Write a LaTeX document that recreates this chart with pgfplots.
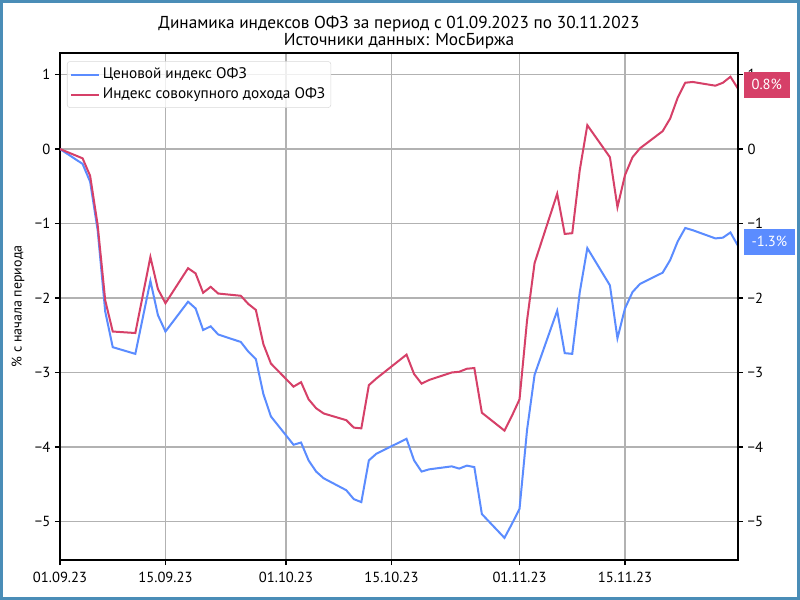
\documentclass[border=0pt]{standalone}
\usepackage{fontspec}
\setmainfont{PT Sans}
\usepackage{pgfplots}
\pgfplotsset{compat=1.18}
\definecolor{cblue}{RGB}{91,140,255}
\definecolor{cred}{RGB}{214,64,104}
\definecolor{framec}{RGB}{74,141,183}
\pgfplotsset{legend image code/.code={\draw[#1] (0bp,0bp) -- (21bp,0bp);}}

\pgfplotstableread{
d v
0 0
3 -0.20
4 -0.44
5 -1.09
6 -2.18
7 -2.66
10 -2.75
12 -1.77
13 -2.23
14 -2.45
17 -2.05
18 -2.14
19 -2.43
20 -2.38
21 -2.49
24 -2.59
25 -2.72
26 -2.82
27 -3.29
28 -3.59
31 -3.97
32 -3.94
33 -4.18
34 -4.33
35 -4.42
38 -4.58
39 -4.70
40 -4.74
41 -4.18
42 -4.09
46 -3.89
47 -4.18
48 -4.33
49 -4.30
52 -4.26
53 -4.29
54 -4.25
55 -4.27
56 -4.90
59 -5.22
60 -5.03
61 -4.83
62 -3.77
63 -3.03
66 -2.17
67 -2.74
68 -2.75
69 -1.92
70 -1.33
73 -1.83
74 -2.54
75 -2.14
76 -1.92
77 -1.81
80 -1.66
81 -1.49
82 -1.24
83 -1.06
84 -1.09
87 -1.20
88 -1.19
89 -1.12
90 -1.30
}\priceidx

\pgfplotstableread{
d v
0 0
3 -0.125
4 -0.36
5 -1.02
6 -2.03
7 -2.45
10 -2.47
12 -1.45
13 -1.88
14 -2.07
17 -1.60
18 -1.67
19 -1.93
20 -1.85
21 -1.94
24 -1.97
25 -2.08
26 -2.16
27 -2.62
28 -2.88
31 -3.19
32 -3.13
33 -3.36
34 -3.48
35 -3.55
38 -3.64
39 -3.74
40 -3.75
41 -3.17
42 -3.08
46 -2.76
47 -3.02
48 -3.15
49 -3.10
52 -3.00
53 -2.99
54 -2.95
55 -2.94
56 -3.54
59 -3.78
60 -3.58
61 -3.36
62 -2.30
63 -1.53
66 -0.60
67 -1.14
68 -1.13
69 -0.28
70 0.32
73 -0.11
74 -0.78
75 -0.35
76 -0.11
77 0.01
80 0.24
81 0.41
82 0.69
83 0.89
84 0.90
87 0.85
88 0.89
89 0.97
90 0.81
}\totalidx

\begin{document}
\begin{tikzpicture}
\fill[framec] (-45bp,-30bp) rectangle (555bp,420bp);
\fill[white] (-42.75bp,-27.75bp) rectangle (552.75bp,417.75bp);
\useasboundingbox (-45bp,-30bp) rectangle (555bp,420bp);
\begin{axis}[
  at={(0,0)}, anchor=south west, scale only axis,
  width=508.5bp, height=380.25bp,
  xmin=0, xmax=90, ymin=-5.517, ymax=1.289,
  xtick={0,14,30,44,61,75},
  xticklabels={01.09.23,15.09.23,01.10.23,15.10.23,01.11.23,15.11.23},
  ytick={-5,-4,-3,-2,-1,0,1},
  yticklabels={−5,−4,−3,−2,−1,0,1},
  tick align=outside, tick pos=left, major tick length=3.75bp,
  grid=major, grid style={gray!60, line width=0.8bp},
  axis line style={line width=0.8bp},
  every tick/.style={black, line width=0.8bp},
  tick label style={font=\fontsize{11}{12}\selectfont},
  xticklabel style={yshift=-1.5bp},
  ylabel={\% с начала периода},
  ylabel style={at={(axis description cs:-0.0619,0.5)}, anchor=center, font=\fontsize{10.5}{12}\selectfont},
  title={Динамика индексов ОФЗ за период с 01.09.2023 по 30.11.2023\\Источники данных: МосБиржа},
  title style={at={(axis description cs:0.5,1)}, anchor=south, align=center, inner sep=0pt, yshift=-3.5bp, font=\fontsize{13}{13.5}\selectfont},
  legend style={at={(axis description cs:0.0103,0.9837)}, anchor=north west,
    draw=gray!30, rounded corners=2bp, fill=white, fill opacity=0.8, text opacity=1,
    font=\fontsize{11.5}{12}\selectfont, inner sep=2.25bp,
    nodes={inner sep=2bp, text height=8.5bp, text depth=2.5bp}},
  legend cell align=left,
]
\addplot[cblue, line width=1.5bp] table[x=d, y=v] {\priceidx};
\addlegendentry{Ценовой индекс ОФЗ}
\addplot[cred, line width=1.5bp] table[x=d, y=v] {\totalidx};
\addlegendentry{Индекс совокупного дохода ОФЗ}
\end{axis}
\begin{axis}[
  at={(0,0)}, anchor=south west, scale only axis,
  width=508.5bp, height=380.25bp,
  xmin=0, xmax=90, ymin=-5.517, ymax=1.289,
  axis x line=none, axis y line*=right,
  ytick={-5,-4,-3,-2,-1,0,1},
  yticklabels={−5,−4,−3,−2,−1,0,1},
  tick align=outside, major tick length=3.75bp,
  axis line style={line width=0.8bp},
  every tick/.style={black, line width=0.8bp},
  tick label style={font=\fontsize{11}{12}\selectfont},
  clip=false,
]
\node[fill=cred, text=white, font=\fontsize{11}{12}\selectfont, inner xsep=6bp, inner ysep=0pt, minimum height=19.5bp, anchor=west, xshift=4bp, yshift=3bp] at (axis cs:90,0.81) {0.8\%};
\node[fill=cblue, text=white, font=\fontsize{11}{12}\selectfont, inner xsep=6bp, inner ysep=0pt, minimum height=19.5bp, anchor=west, xshift=4bp, yshift=3bp] at (axis cs:90,-1.30) {-1.3\%};
\end{axis}
\end{tikzpicture}
\end{document}
